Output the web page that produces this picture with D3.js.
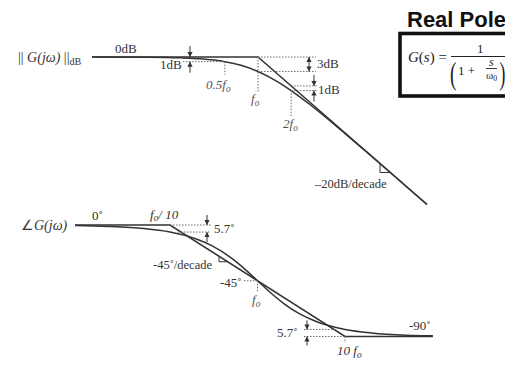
<!DOCTYPE html>
<html><head><meta charset="utf-8">
<script src="https://cdn.jsdelivr.net/npm/d3@7"></script>
<style>body{margin:0;background:#fff}svg{display:block}</style>
</head><body>
<svg id="chart" width="505" height="368"></svg>
<script>
// Normalised frequency f / f0 and the first-order low-pass response
const magFreq = [0.031, 0.1, 0.2, 0.3, 0.5, 0.7, 1, 1.5, 2, 3, 5, 7, 10, 20, 34.4];
const magDb   = [-0.004, -0.04, -0.17, -0.37, -0.97, -1.73, -3.01, -5.12, -6.99, -10.0, -14.15, -17.0, -20.04, -26.03, -30.74];
const magAsymFreq = [0.031, 1, 34.4];
const magAsymDb   = [0, 0, -30.73];

const phaseFreq = [0.0082, 0.02, 0.05, 0.1, 0.2, 0.3, 0.5, 0.7, 1, 1.5, 2, 3, 5, 10, 20, 50, 101];
const phaseDeg  = [-0.47, -1.15, -2.86, -5.71, -11.3, -16.7, -26.6, -35.0, -45, -56.3, -63.4, -71.6, -78.7, -84.3, -87.1, -88.9, -89.4];
const phaseAsymFreq = [0.0082, 0.1, 10, 101];
const phaseAsymDeg  = [0, 0, -90, -90];

// Marked points on the two plots
const magMarks = { half: 0.5, f0: 1, twice: 2, dbHalf: -0.97, dbF0: -3.01, dbTwice: -6.99, asymTwice: -6.02 };
const phaseMarks = { tenth: 0.1, f0: 1, ten: 10, degTenth: -5.71, degTen: -84.3 };

const svg = d3.select("#chart");
const ink = "#333";
const dotInk = "#6a6a6a";
const serif = "'Liberation Serif', 'Times New Roman', serif";

// Scales: magnitude uses 110 px per decade, phase 87.5 px per decade
const xMag = d3.scaleLog().domain([0.1, 10]).range([148, 368]);
const yMag = d3.scaleLinear().domain([0, -30]).range([57, 201]);
const xPh = d3.scaleLog().domain([0.1, 10]).range([170, 345]);
const yPh = d3.scaleLinear().domain([0, -90]).range([225, 336.5]);

function txt(x, y, pieces, opt = {}) {
  const size = opt.size || 13;
  const t = svg.append("text").attr("x", x).attr("y", y)
    .attr("font-family", opt.family || serif)
    .attr("font-size", size)
    .attr("fill", opt.fill || ink)
    .attr("text-anchor", opt.anchor || "start");
  if (opt.weight) t.attr("font-weight", opt.weight);
  if (opt.transform) t.attr("transform", opt.transform);
  let shift = 0;
  pieces.forEach(p => {
    const [s, kind] = typeof p === "string" ? [p, ""] : p;
    const ts = t.append("tspan").text(s);
    if (kind.includes("i")) ts.attr("font-style", "italic");
    const want = kind.includes("sub") ? (opt.subShift || 3) : 0;
    if (want !== shift) { ts.attr("dy", want - shift); shift = want; }
    if (kind.includes("sub")) ts.attr("font-size", size * 0.72);
  });
  return t;
}

function seg(x1, y1, x2, y2, dotted, color, w) {
  svg.append("line").attr("x1", x1).attr("y1", y1).attr("x2", x2).attr("y2", y2)
    .attr("stroke", color || (dotted ? dotInk : ink))
    .attr("stroke-width", w || (dotted ? 1 : 1.3))
    .attr("stroke-dasharray", dotted ? "1.5,1.5" : null);
}

function arrow(x, yFrom, yTo) {
  seg(x, yFrom, x, yTo, false, ink, 1);
  const d = yTo > yFrom ? 1 : -1;
  svg.append("path")
    .attr("d", `M${x},${yTo} L${x - 2.6},${yTo - d * 5} L${x + 2.6},${yTo - d * 5} Z`)
    .attr("fill", ink);
}

// ---------- Magnitude plot ----------
const magLine = d3.line().x(d => xMag(d[0])).y(d => yMag(d[1]));
svg.append("path").datum(d3.zip(magAsymFreq, magAsymDb))
  .attr("d", magLine).attr("fill", "none").attr("stroke", ink).attr("stroke-width", 1.5);
svg.append("path").datum(d3.zip(magFreq, magDb))
  .attr("d", magLine.curve(d3.curveMonotoneX)).attr("fill", "none").attr("stroke", ink).attr("stroke-width", 1.5);

txt(18, 62, ["|| ", ["G(jω)", "i"], " ||", ["dB", "sub"]], { size: 14 });
txt(115, 53, ["0dB"]);

// 1 dB at 0.5 f0
const xh = xMag(magMarks.half), yh = yMag(magMarks.dbHalf);
seg(183, yh, xh, yh, true);
seg(xh, yh, xh, yh + 13, true);
arrow(190, yMag(0) - 11, yMag(0));
arrow(190, yh + 11, yh);
txt(160, 69, ["1dB"]);
txt(206, 89, [["0.5", "i"], ["f", "i"], ["o", "i sub"]], { fill: "#555" });

// 3 dB at f0
const xf = xMag(magMarks.f0), yf = yMag(magMarks.dbF0);
seg(xf, yMag(0), 316, yMag(0), true);
seg(xf, yf, 316, yf, true);
seg(xf, yMag(0), xf, 93, true);
const mid3 = (yMag(0) + yf) / 2;
arrow(309, mid3, yMag(0));
arrow(309, mid3, yf);
txt(317, 68, ["3dB"]);
txt(251, 103, [["f", "i"], ["o", "i sub"]], { fill: "#555" });

// 1 dB at 2 f0
const x2 = xMag(magMarks.twice), ya2 = yMag(magMarks.asymTwice), yc2 = yMag(magMarks.dbTwice);
seg(x2, ya2, 318, ya2, true);
seg(x2, yc2, 318, yc2, true);
seg(x2, yc2, x2, 117, true);
arrow(314, ya2 - 11, ya2);
arrow(314, yc2 + 11, yc2);
txt(318, 94, ["1dB"]);
txt(283, 128, [["2", "i"], ["f", "i"], ["o", "i sub"]], { fill: "#555" });

// slope marker on the -20 dB/decade asymptote
{
  const xs = 380, fs = xMag.invert(xs), ys = yMag(-20 * Math.log10(fs));
  const yb = ys + 9;
  const fb = Math.pow(10, -yMag.invert(yb) / 20);
  svg.append("path").attr("d", `M${xs},${ys} L${xs},${yb} L${xMag(fb)},${yb}`)
    .attr("fill", "none").attr("stroke", ink).attr("stroke-width", 1);
}
txt(315, 188, ["–20dB/decade"], { size: 12.5 });

// ---------- Phase plot ----------
const phLine = d3.line().x(d => xPh(d[0])).y(d => yPh(d[1]));
svg.append("path").datum(d3.zip(phaseAsymFreq, phaseAsymDeg))
  .attr("d", phLine).attr("fill", "none").attr("stroke", ink).attr("stroke-width", 1.5);
svg.append("path").datum(d3.zip(phaseFreq, phaseDeg))
  .attr("d", phLine.curve(d3.curveMonotoneX)).attr("fill", "none").attr("stroke", ink).attr("stroke-width", 1.5);

txt(21, 230, ["∠", ["G(jω)", "i"]], { size: 14 });
txt(92, 220, ["0˚"]);
txt(150, 219, [["f", "i"], ["o", "i sub"], ["/ 10", "i"]], { subShift: 2 });

// 5.7 degrees at f0/10
const xt = xPh(phaseMarks.tenth), yt = yPh(phaseMarks.degTenth);
seg(xt, yPh(0), 211, yPh(0), true);
seg(xt + 8, yt, 211, yt, true);
arrow(207, yPh(0) - 10, yPh(0));
arrow(207, yt + 10, yt);
txt(214, 233, ["5.7˚"]);

// slope marker on the -45 deg/decade asymptote
{
  const xs = 219, fs = xPh.invert(xs), ys = yPh(-45 * Math.log10(fs / 0.1));
  const yb = ys + 5.5;
  const fb = 0.1 * Math.pow(10, -yPh.invert(yb) / 45);
  svg.append("path").attr("d", `M${xs},${ys} L${xs},${yb} L${xPh(fb)},${yb}`)
    .attr("fill", "none").attr("stroke", ink).attr("stroke-width", 1);
}
txt(153, 269, ["-45˚/decade"], { size: 12.5 });

// -45 degrees at f0
const xp0 = xPh(phaseMarks.f0), yp0 = yPh(-45);
seg(244, yp0, xp0, yp0, true);
seg(xp0, yp0, xp0, 292, true);
txt(220, 287, ["-45˚"]);
txt(252, 304, [["f", "i"], ["o", "i sub"]], { fill: "#555" });

// 5.7 degrees at 10 f0
const x10 = xPh(phaseMarks.ten), y10 = yPh(phaseMarks.degTen);
seg(304, y10, x10 - 8, y10, true);
seg(304, yPh(-90), x10, yPh(-90), true);
seg(x10, yPh(-90), x10, 343, true);
arrow(307, y10 - 9, y10);
arrow(307, yPh(-90) + 9, yPh(-90));
txt(277, 337, ["5.7˚"]);
txt(337, 355, [["10 ", "i"], ["f", "i"], ["o", "i sub"]]);
txt(409, 330, ["-90˚"]);

// ---------- Title and transfer function ----------
txt(407, 27, ["Real Pole"], { family: "'Liberation Sans', Arial, sans-serif", size: 22, weight: "bold", fill: "#111" });
svg.append("rect").attr("x", 400).attr("y", 33.5).attr("width", 160).attr("height", 62.5)
  .attr("fill", "#fff").attr("stroke", "#111").attr("stroke-width", 3.6);
txt(408, 62, [["G", "i"], "(", ["s", "i"], ") ="], { size: 15, fill: "#222" });
seg(451, 56.5, 530, 56.5, false, "#222", 1);
txt(477, 53, ["1"], { size: 13, fill: "#222" });
txt(0, 0, ["("], { size: 32, fill: "#222", transform: "translate(450,84) scale(0.6,1)" });
txt(458, 75, ["1 +"], { size: 13, fill: "#222" });
txt(489, 66, [["s", "i"]], { size: 12, fill: "#222" });
seg(486, 68.5, 497, 68.5, false, "#222", 0.9);
txt(486, 79, ["ω", ["0", "sub"]], { size: 11, fill: "#222", subShift: 2 });
txt(0, 0, [")"], { size: 32, fill: "#222", transform: "translate(499.5,84) scale(0.55,1)" });
</script>
</body></html>
